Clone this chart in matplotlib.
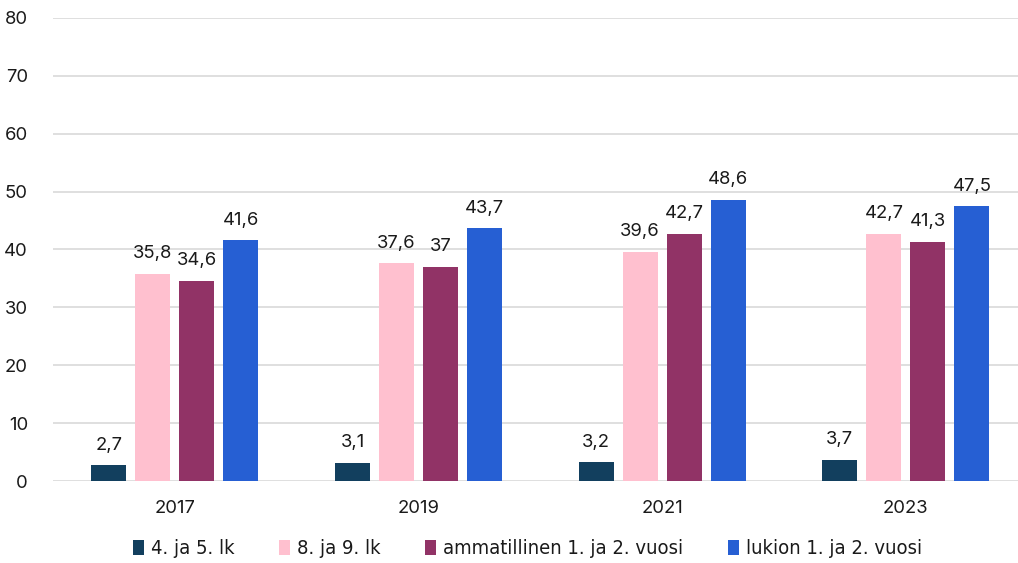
import matplotlib
matplotlib.use("Agg")
import matplotlib.pyplot as plt
import numpy as np
from matplotlib.patches import Patch

years = ["2017", "2019", "2021", "2023"]
series_names = ["4. ja 5. lk", "8. ja 9. lk", "ammatillinen 1. ja 2. vuosi", "lukion 1. ja 2. vuosi"]
s1 = [2.7, 3.1, 3.2, 3.7]
s2 = [35.8, 37.6, 39.6, 42.7]
s3 = [34.6, 37.0, 42.7, 41.3]
s4 = [41.6, 43.7, 48.6, 47.5]
labels1 = ["2,7", "3,1", "3,2", "3,7"]
labels2 = ["35,8", "37,6", "39,6", "42,7"]
labels3 = ["34,6", "37", "42,7", "41,3"]
labels4 = ["41,6", "43,7", "48,6", "47,5"]
colors = ["#123f5e", "#ffc0cf", "#913366", "#265fd3"]

fig = plt.figure(figsize=(10.18, 5.63), dpi=100)
ax = fig.add_axes([53/1018, 82/563, 1 - 53/1018, (481-18)/563])

numfont = ["Inter", "DejaVu Sans"]

x = np.arange(len(years))
width = 0.1436
step = 0.1805
all_series = [s1, s2, s3, s4]
all_labels = [labels1, labels2, labels3, labels4]
for i, (vals, labs) in enumerate(zip(all_series, all_labels)):
    pos = x + (i - 1.5) * step
    bars = ax.bar(pos, vals, width=width, color=colors[i], zorder=3)
    for b, lab in zip(bars, labs):
        ax.text(b.get_x() + b.get_width()/2, b.get_height() + 2.0, lab,
                ha="center", va="bottom", fontsize=13.3, family=numfont, color="#1a1a1a")

ax.set_xlim(-0.5, 3.46)
ax.set_ylim(0, 80)
ax.set_yticks(range(0, 81, 10))
ax.set_xticks(x)
ax.set_xticklabels(years)
ax.grid(axis="y", color="#d9d9d9", linewidth=1.2, zorder=0)
for s in ax.spines.values():
    s.set_visible(False)
ax.tick_params(axis="both", length=0, labelsize=13.3, colors="#1a1a1a")
ax.tick_params(axis="y", pad=18)
ax.tick_params(axis="x", pad=14)
for t in ax.get_xticklabels() + ax.get_yticklabels():
    t.set_family(numfont)

handles = [Patch(facecolor=c) for c in colors]
leg = fig.legend(handles, series_names, loc="center", bbox_to_anchor=(0.518, 14/563),
                 ncol=4, frameon=False, handlelength=0.55, handleheight=0.75,
                 handletextpad=0.35, columnspacing=2.2,
                 prop={"family": "DejaVu Sans", "stretch": "condensed", "size": 14.5})
for t in leg.get_texts():
    t.set_color("#1a1a1a")

fig.savefig("out.png", dpi=100)
